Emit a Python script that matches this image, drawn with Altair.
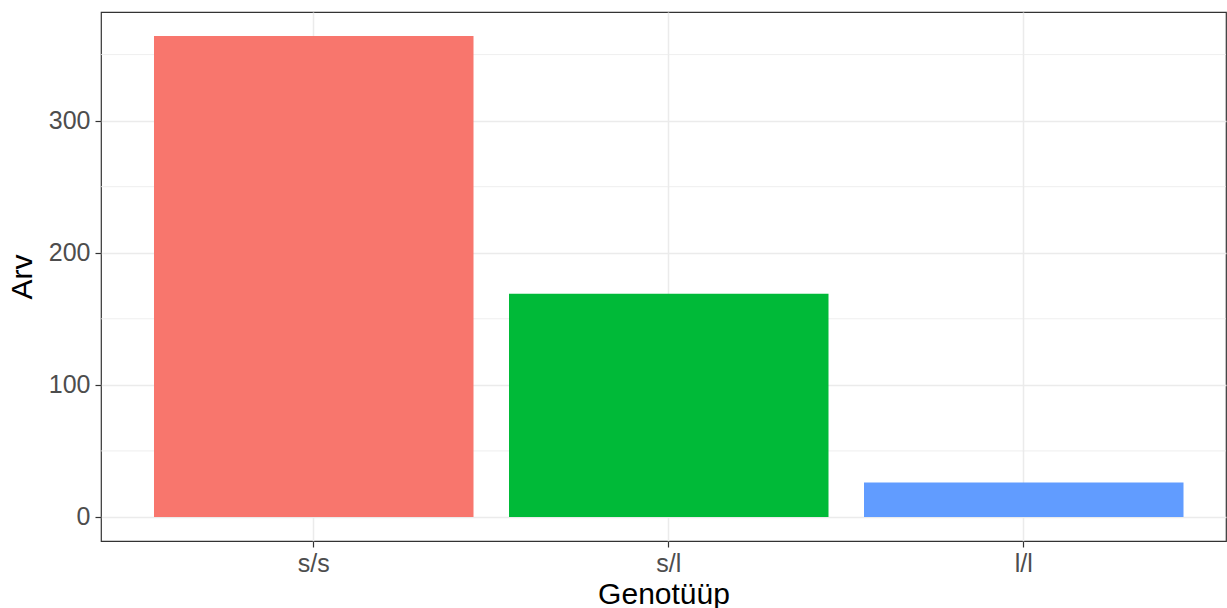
import altair as alt
import pandas as pd

genotypes = ["s/s", "s/l", "l/l"]
counts = [364, 169, 26]
colors = ["#F8766D", "#00BA38", "#619CFF"]
major_ticks = [0, 100, 200, 300]
minor_ticks = [50, 150, 250, 350]

bars_df = pd.DataFrame({"Genotüüp": genotypes, "Arv": counts, "base": [0] * len(counts)})
minor_df = pd.DataFrame({"Arv": minor_ticks})

yscale = alt.Scale(domain=[-18.2, 382.2], nice=False, zero=False)
xscale = alt.Scale(domain=genotypes, paddingInner=0.1, paddingOuter=0.1345, align=0.555)

yaxis = alt.Axis(title="Arv", values=major_ticks,
                 grid=True, gridColor="#EBEBEB", gridWidth=1.5,
                 domain=False, ticks=True, tickColor="#333333", tickSize=6, tickWidth=1.2,
                 labelColor="#4D4D4D", labelFontSize=25, labelFont="Liberation Sans",
                 labelPadding=5, titleFont="Liberation Sans", titleFontSize=30,
                 titleFontWeight="normal", titleColor="#000000", titlePadding=11)

minor = alt.Chart(minor_df).mark_rule(color="#EBEBEB", strokeWidth=0.8).encode(
    y=alt.Y("Arv:Q", scale=yscale, axis=yaxis)
)

bars = alt.Chart(bars_df).mark_bar().encode(
    x=alt.X("Genotüüp:N", scale=xscale, sort=genotypes,
            axis=alt.Axis(title="Genotüüp", labelAngle=0, bandPosition=0.5,
                          grid=True, gridColor="#EBEBEB", gridWidth=1.5,
                          domain=False, ticks=True, tickColor="#333333", tickSize=6, tickWidth=1.2,
                          labelColor="#4D4D4D", labelFontSize=25, labelFont="Liberation Sans",
                          labelPadding=4, titleFont="Liberation Sans", titleFontSize=30,
                          titleFontWeight="normal", titleColor="#000000", titlePadding=3)),
    y=alt.Y("Arv:Q", scale=yscale, axis=yaxis),
    y2="base:Q",
    color=alt.Color("Genotüüp:N", scale=alt.Scale(domain=genotypes, range=colors), legend=None),
)

chart = alt.layer(minor, bars).properties(
    width=1125, height=529,
    padding={"left": 101, "top": 12, "right": 1, "bottom": 67},
    autosize=alt.AutoSizeParams(type="none"),
    background="white",
).configure_view(stroke="#333333", strokeWidth=1.2)

chart.save("out.html", embed_options={"renderer": "svg", "actions": False})
